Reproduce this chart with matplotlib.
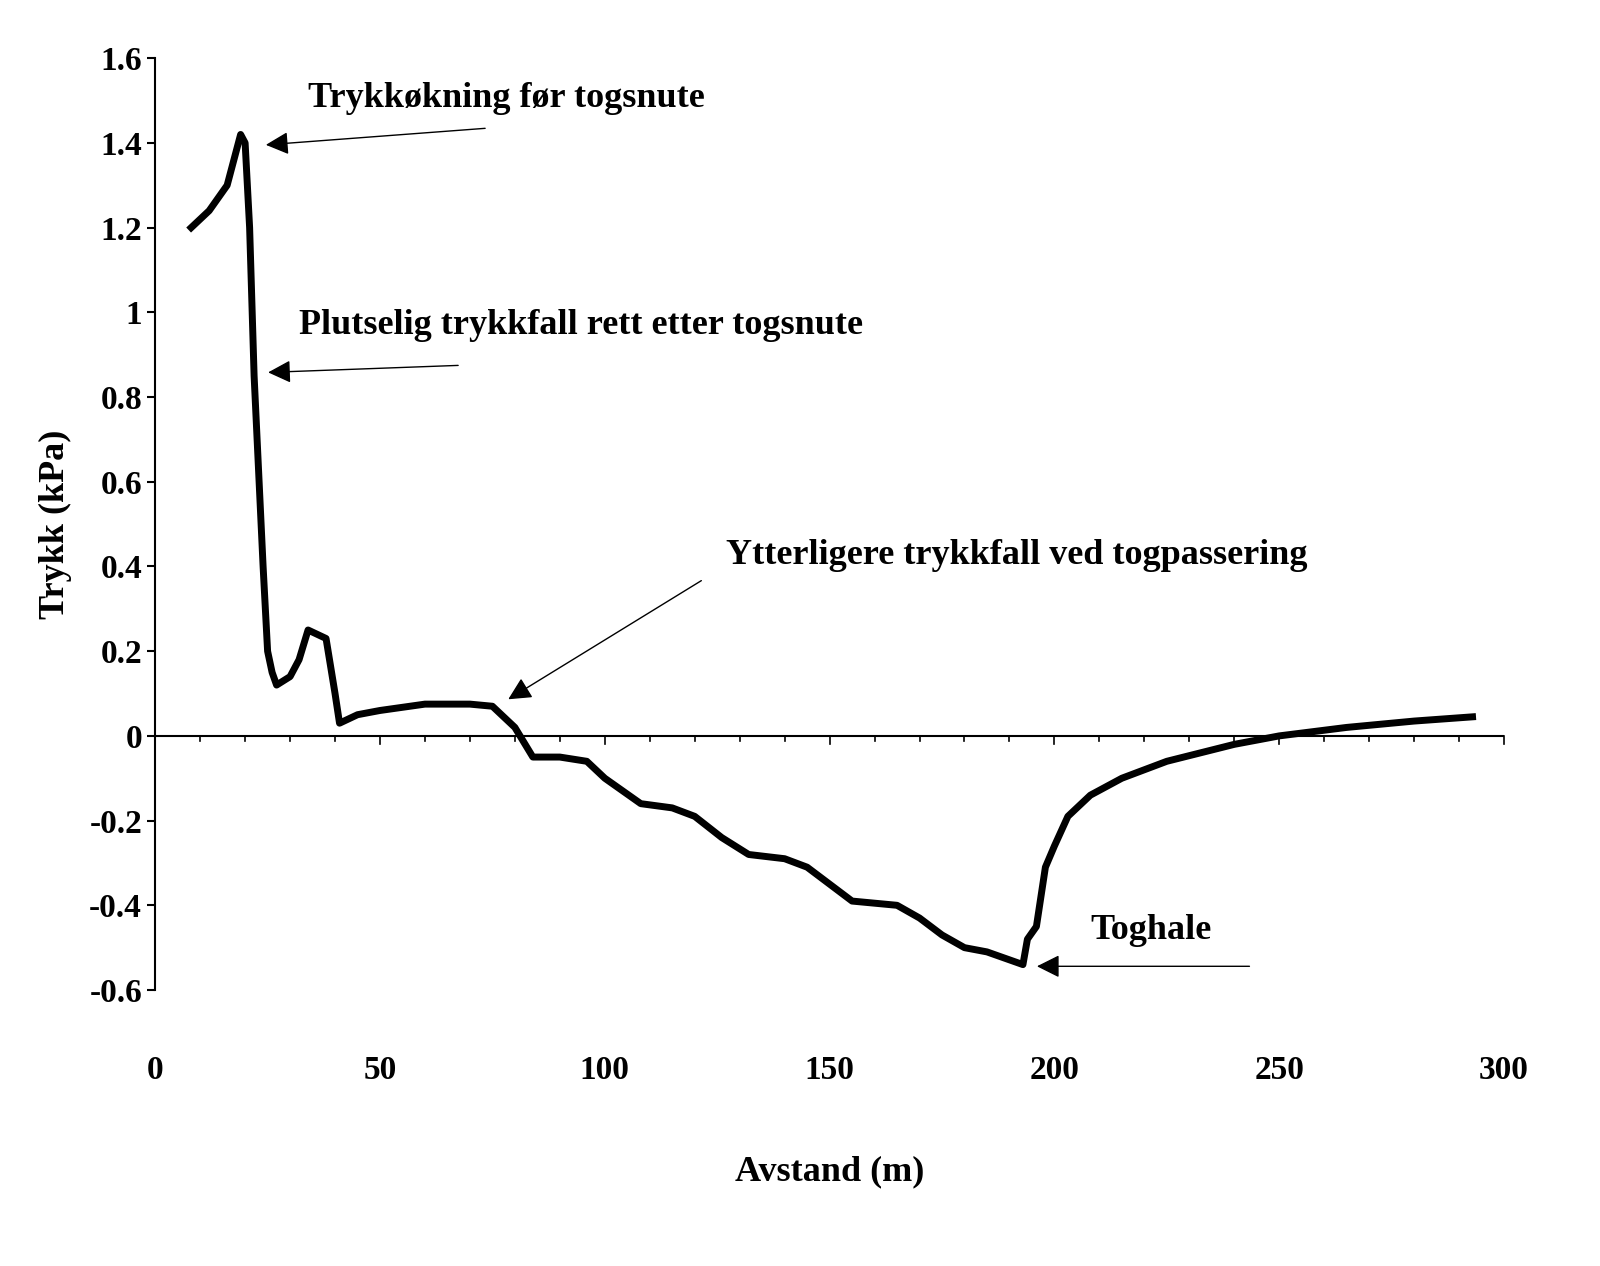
import matplotlib
matplotlib.use("Agg")
import matplotlib.pyplot as plt

dist = [8,12,16,18,19,20,21,22,24,25,26,27,30,32,34,36,38,40,41,45,50,60,70,75,80,84,90,96,100,108,115,120,126,132,140,145,150,155,165,170,175,180,185,193,194,196,198,200,203,208,215,225,240,250,265,280,293]
press = [1.2,1.24,1.3,1.38,1.42,1.4,1.2,0.85,0.4,0.2,0.15,0.12,0.14,0.18,0.25,0.24,0.23,0.1,0.03,0.05,0.06,0.075,0.075,0.07,0.02,-0.05,-0.05,-0.06,-0.1,-0.16,-0.17,-0.19,-0.24,-0.28,-0.29,-0.31,-0.35,-0.39,-0.40,-0.43,-0.47,-0.5,-0.51,-0.54,-0.48,-0.45,-0.31,-0.26,-0.19,-0.14,-0.1,-0.06,-0.02,0.0,0.02,0.035,0.045]
yticks = [1.6,1.4,1.2,1,0.8,0.6,0.4,0.2,0,-0.2,-0.4,-0.6]
ylabels = ["1.6","1.4","1.2","1","0.8","0.6","0.4","0.2","0","-0.2","-0.4","-0.6"]
xticks = [0,50,100,150,200,250,300]

plt.rcParams['font.family'] = ['Liberation Serif']
plt.rcParams['font.weight'] = 'bold'
fig = plt.figure(figsize=(16,12.66), dpi=100)
ax = fig.add_axes([0.097,0.218,0.843,0.736])
ax.set_xlim(0,300); ax.set_ylim(-0.6,1.6)
for s in ['top','right','bottom']:
    ax.spines[s].set_visible(False)
ax.spines['left'].set_linewidth(1.5)
ax.axhline(0, color='black', lw=1.5)
for x in range(10,301,10):
    ax.plot([x,x],[0,-0.012 if x%50 else -0.02], color='black', lw=1.2, clip_on=False)
ax.set_xticks([])
ax.set_yticks(yticks); ax.set_yticklabels(ylabels, fontsize=24, fontweight='bold')
ax.tick_params(axis='y', length=6, width=1.5)
for x in xticks:
    ax.text(x,-0.79,str(x),ha='center',va='center',fontsize=24,fontweight='bold')
ax.text(150,-1.03,"Avstand (m)",ha='center',va='center',fontsize=26,fontweight='bold')
ax.set_ylabel("Trykk (kPa)", fontsize=26, fontweight='bold', labelpad=12)
ax.plot(dist, press, color='black', lw=5)

ap = dict(arrowstyle='-|>', color='black', lw=1, mutation_scale=35)
fs = 26
ax.text(34,1.505,"Trykkøkning før togsnute",fontsize=fs,fontweight='bold',va='center')
ax.annotate("",xy=(24,1.395),xytext=(74,1.435),arrowprops=ap)
ax.text(32,0.97,"Plutselig trykkfall rett etter togsnute",fontsize=fs,fontweight='bold',va='center')
ax.annotate("",xy=(24.5,0.858),xytext=(68,0.875),arrowprops=ap)
ax.text(127,0.425,"Ytterligere trykkfall ved togpassering",fontsize=fs,fontweight='bold',va='center')
ax.annotate("",xy=(78,0.083),xytext=(122,0.37),arrowprops=ap)
ax.text(208,-0.46,"Toghale",fontsize=fs,fontweight='bold',va='center')
ax.annotate("",xy=(195.5,-0.544),xytext=(244,-0.544),arrowprops=ap)
fig.savefig("out.png")
